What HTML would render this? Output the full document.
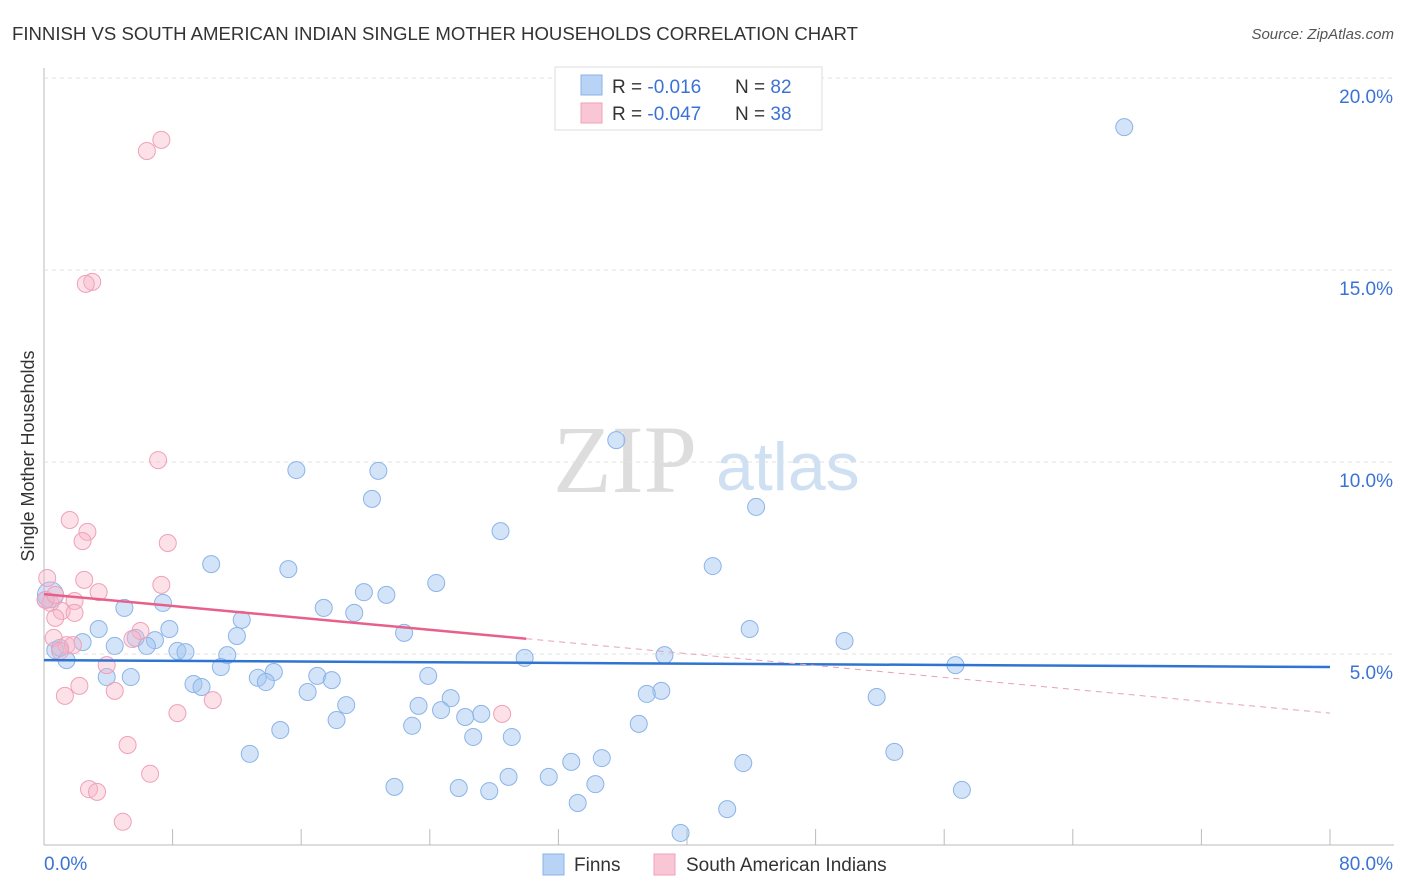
<!DOCTYPE html>
<html><head><meta charset="utf-8"><style>
body{margin:0;background:#fff;font-family:"Liberation Sans",sans-serif;}
svg{display:block}
</style></head><body>
<svg id="chart" width="1406" height="892">
<text x="12" y="40" font-size="18" fill="#333" textLength="846" lengthAdjust="spacingAndGlyphs">FINNISH VS SOUTH AMERICAN INDIAN SINGLE MOTHER HOUSEHOLDS CORRELATION CHART</text>
<text x="1394" y="39" font-size="15" fill="#555" font-style="italic" text-anchor="end">Source: ZipAtlas.com</text>
<text x="0" y="0" transform="translate(34,456) rotate(-90)" font-size="18" fill="#333" text-anchor="middle">Single Mother Households</text>
<g><text x="553" y="492" font-size="96" font-family="Liberation Serif,serif" fill="#ddd">ZIP</text><text x="716" y="490" font-size="68" fill="#cfe0f3">atlas</text></g>
<g id="grid"></g><g id="marks"></g><g id="trends"></g>
<g>
<rect x="555" y="67" width="267" height="63" fill="#fff" stroke="#ddd"/>
<rect x="581" y="75" width="21" height="20" fill="#b8d3f5" stroke="#8ab4e8"/>
<rect x="581" y="103" width="21" height="20" fill="#f9c6d6" stroke="#f0a0b8"/>
<text x="612" y="93" font-size="19" fill="#333">R = <tspan fill="#3b73d4">-0.016</tspan><tspan x="735">N = </tspan><tspan fill="#3b73d4">82</tspan></text>
<text x="612" y="120" font-size="19" fill="#333">R = <tspan fill="#3b73d4">-0.047</tspan><tspan x="735">N = </tspan><tspan fill="#3b73d4">38</tspan></text>
</g>
<g>
<rect x="543" y="854" width="21" height="21" fill="#b8d3f5" stroke="#8ab4e8"/>
<text x="574" y="871" font-size="19" fill="#333">Finns</text>
<rect x="654" y="854" width="21" height="21" fill="#f9c6d6" stroke="#f0a0b8"/>
<text x="686" y="871" font-size="19" fill="#333">South American Indians</text>
</g>
<text x="44" y="870" font-size="19" fill="#3b73d4">0.0%</text>
<text x="1393" y="870" font-size="19" fill="#3b73d4" text-anchor="end">80.0%</text>
</svg>
<script>
const yTicks=[5,10,15,20];
const yTickLabels=["5.0%","10.0%","15.0%","20.0%"];
const xTicks=[0,8,16,24,32,40,48,56,64,72,80];
const finnsX=[67.2,35.6,15.7,20.8,20.4,44.3,28.4,10.4,15.2,41.6,24.4,19.9,21.3,7.4,5.0,17.4,19.3,12.3,3.4,7.8,43.9,12.0,22.4,5.7,6.9,2.4,4.4,6.4,49.8,8.3,8.8,0.7,11.4,29.9,38.6,1.4,56.7,11.0,14.3,13.3,17.0,17.9,23.9,3.9,5.4,13.8,9.3,9.8,16.4,38.4,37.5,51.8,18.8,25.3,23.3,24.7,27.2,26.2,18.2,22.9,37.0,14.7,26.7,29.1,52.9,12.8,34.7,32.8,43.5,28.9,31.4,34.3,21.8,25.8,27.7,57.1,33.2,42.5,39.6,0.4,0.1,1.0];
const finnsY=[18.72,10.57,9.79,9.77,9.04,8.83,8.20,7.34,7.21,7.29,6.85,6.61,6.54,6.33,6.20,6.20,6.07,5.89,5.65,5.65,5.65,5.47,5.55,5.42,5.36,5.31,5.21,5.21,5.34,5.08,5.05,5.10,4.97,4.90,4.97,4.84,4.71,4.66,4.53,4.38,4.43,4.32,4.43,4.40,4.40,4.27,4.22,4.14,4.01,4.04,3.96,3.88,3.67,3.85,3.65,3.54,3.44,3.36,3.28,3.13,3.18,3.02,2.84,2.84,2.45,2.40,2.29,2.19,2.16,1.80,1.80,1.61,1.54,1.51,1.43,1.46,1.12,0.96,0.34,6.54,6.41,5.16];
const saiX=[7.3,6.4,3.0,2.6,7.1,1.6,2.7,2.4,7.7,2.5,0.2,7.3,3.4,0.4,1.9,1.1,1.9,0.7,6.0,5.5,0.6,1.4,1.8,1.0,3.9,2.2,4.4,1.3,10.5,8.3,28.5,5.2,6.6,2.8,3.3,4.9,0.1,0.7];
const saiY=[18.39,18.10,14.69,14.64,10.05,8.49,8.18,7.94,7.89,6.93,6.98,6.80,6.61,6.33,6.38,6.12,6.07,5.94,5.60,5.39,5.42,5.23,5.23,5.08,4.71,4.17,4.04,3.91,3.80,3.46,3.44,2.63,1.88,1.48,1.41,0.63,6.41,6.54];
const finnsTrend=[4.84,4.66];
const saiTrend=[6.56,3.46];
const saiSolidEnd=30;
const X=v=>44+v*(1286/80), Y=v=>846-v*38.4;
const NS="http://www.w3.org/2000/svg";
function mk(t,a,p){const e=document.createElementNS(NS,t);for(const k in a)e.setAttribute(k,a[k]);p.appendChild(e);return e;}
const grid=document.getElementById('grid'),marks=document.getElementById('marks'),tr=document.getElementById('trends');
mk('line',{x1:44,y1:68,x2:44,y2:845,stroke:'#bbb'},grid);
mk('line',{x1:44,y1:845,x2:1394,y2:845,stroke:'#bbb'},grid);
yTicks.forEach((t,i)=>{
 const l=mk('line',{x1:44,y1:Y(t),x2:1394,y2:Y(t),stroke:'#e2e2e2','stroke-dasharray':'4,4'},grid);
 
 
 const tx=mk('text',{x:1393,y:Y(t)+25,'font-size':19,fill:'#3b73d4','text-anchor':'end'},grid);
 tx.textContent=yTickLabels[i];
 
 
});
xTicks.forEach(t=>{
 const l=mk('line',{x1:X(t),y1:829,x2:X(t),y2:845,stroke:'#bbb'},grid);
 
 
});
finnsX.forEach((v,i)=>{
 const c=mk('circle',{cx:X(v),cy:Y(finnsY[i]),r:i==79?13:8.5,fill:'rgba(160,196,240,0.45)',stroke:'#8ab4e8','stroke-width':1},marks);
 
 
});
saiX.forEach((v,i)=>{
 const c=mk('circle',{cx:X(v),cy:Y(saiY[i]),r:8.5,fill:'rgba(248,180,200,0.4)',stroke:'#f0a0b8','stroke-width':1},marks);
 
 
});
const bl=mk('line',{x1:X(0),y1:Y(finnsTrend[0]),x2:X(80),y2:Y(finnsTrend[1]),stroke:'#2f74d0','stroke-width':2.5},tr);


const sv=saiTrend[0]+(saiTrend[1]-saiTrend[0])*saiSolidEnd/80;
const pl=mk('line',{x1:X(0),y1:Y(saiTrend[0]),x2:X(saiSolidEnd),y2:Y(sv),stroke:'#e8608a','stroke-width':2.5},tr);


const pd=mk('line',{x1:X(saiSolidEnd),y1:Y(sv),x2:X(80),y2:Y(saiTrend[1]),stroke:'#e8a0b8','stroke-width':1,'stroke-dasharray':'6,5'},tr);


</script>
</body></html>
